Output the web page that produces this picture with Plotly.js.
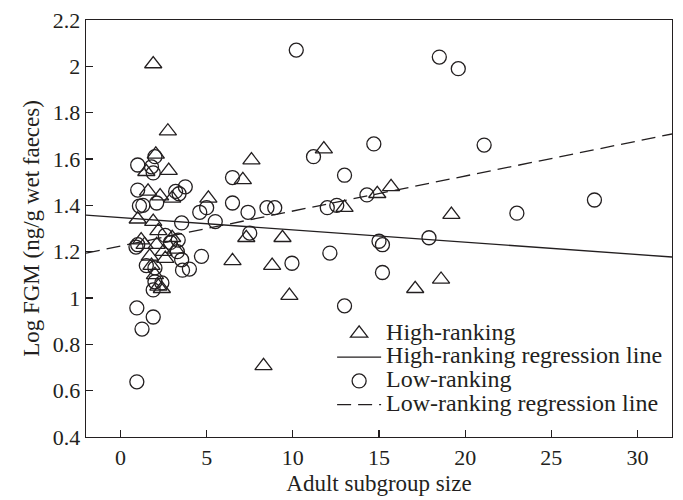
<!DOCTYPE html>
<html>
<head>
<meta charset="utf-8">
<script src="https://cdn.plot.ly/plotly-3.0.1.min.js"></script>
<style>html,body{margin:0;padding:0;background:#fff;}#chart{width:683px;height:500px;}</style>
</head>
<body>
<div id="chart"></div>
<script>
// High-ranking individuals (triangles)
var highX = [1.9, 2.75, 2.05, 1.5, 2.8, 1.6, 2.3, 3.0, 5.1, 1.0, 1.9, 2.2, 1.4, 2.1, 2.6, 1.8, 2.0, 2.4, 1.2, 2.5, 1.7, 2.2, 3.0, 3.2,
             7.6, 7.1, 11.8, 13.0, 14.9, 15.7, 7.3, 9.4, 6.5, 8.8, 9.8, 17.1, 18.6, 8.3, 19.2];
var highY = [2.01, 1.72, 1.62, 1.545, 1.55, 1.46, 1.44, 1.43, 1.43, 1.34, 1.33, 1.29, 1.23, 1.23, 1.17, 1.14, 1.10, 1.04, 1.25, 1.20, 1.18, 1.05, 1.26, 1.21,
             1.595, 1.51, 1.643, 1.39, 1.45, 1.48, 1.26, 1.26, 1.16, 1.14, 1.01, 1.04, 1.08, 0.707, 1.36];
// Low-ranking individuals (circles)
var lowX = [10.2, 18.5, 19.6, 14.7, 11.2, 13.0, 6.5, 6.5, 7.4, 8.5, 8.95, 12.0, 12.55, 14.3, 7.5, 15.0, 15.2, 17.9, 9.95, 12.15, 15.2, 13.0, 21.1, 27.5, 23.0,
            1.0, 1.8, 2.0, 1.9, 1.0, 1.1, 2.1, 3.2, 3.4, 3.76, 4.6, 5.0, 3.55, 5.5, 1.0, 0.9, 3.35, 2.9, 3.3, 3.55, 3.6, 4.0, 4.7, 1.5, 2.0, 2.0, 2.4, 1.9, 0.95, 1.9, 1.25, 0.95, 2.6, 1.3];
var lowY = [2.07, 2.04, 1.99, 1.665, 1.61, 1.53, 1.52, 1.41, 1.37, 1.39, 1.39, 1.39, 1.40, 1.445, 1.28, 1.245, 1.23, 1.26, 1.15, 1.194, 1.11, 0.966, 1.66, 1.423, 1.366,
            1.574, 1.566, 1.61, 1.54, 1.466, 1.397, 1.41, 1.46, 1.45, 1.48, 1.37, 1.39, 1.324, 1.33, 1.23, 1.22, 1.25, 1.24, 1.20, 1.165, 1.12, 1.125, 1.18, 1.14, 1.13, 1.07, 1.065, 1.035, 0.957, 0.918, 0.866, 0.638, 1.27, 1.40];
// Regression line end points
var regX = [-2, 32];
var highRegY = [1.358, 1.177];
var lowRegY = [1.194, 1.708];
var xTicks = [0, 5, 10, 15, 20, 25, 30];
var seriesNames = ['High-ranking', 'High-ranking regression line', 'Low-ranking', 'Low-ranking regression line'];

var ink = '#231f20';
var fontFam = '"Liberation Serif", "DejaVu Serif", serif';
function big(s) { return '<span style="font-size:24px">' + s + '</span>'; }

var traces = [
  {x: highX, y: highY, type: 'scatter', mode: 'markers', name: big(seriesNames[0]),
   marker: {symbol: 'triangle-up-open', size: 15, color: ink, line: {width: 1.3, color: ink}}},
  {x: regX, y: highRegY, type: 'scatter', mode: 'lines', name: big(seriesNames[1]),
   line: {color: ink, width: 1.3}},
  {x: lowX, y: lowY, type: 'scatter', mode: 'markers', name: big(seriesNames[2]),
   marker: {symbol: 'circle-open', size: 14, color: ink, line: {width: 1.3, color: ink}}},
  {x: regX, y: lowRegY, type: 'scatter', mode: 'lines', name: big(seriesNames[3]),
   line: {color: ink, width: 1.3, dash: '14px,7px'}}
];

var layout = {
  width: 683, height: 500,
  margin: {l: 86, r: 11, t: 20, b: 63},
  paper_bgcolor: '#fff', plot_bgcolor: '#fff',
  font: {family: fontFam, color: ink, size: 20},
  showlegend: true,
  legend: {x: 0.42, y: 0.035, xanchor: 'left', yanchor: 'bottom', bgcolor: 'rgba(0,0,0,0)',
           font: {family: fontFam, size: 16, color: ink}, tracegroupgap: 0, itemwidth: 44},
  xaxis: {range: [-2, 32], tickvals: xTicks, ticks: 'inside', ticklen: 7, tickwidth: 1.3, tickcolor: ink,
          showline: true, linecolor: ink, linewidth: 1.3, mirror: true, showgrid: false, zeroline: false,
          tickfont: {family: fontFam, size: 22, color: ink},
          title: {text: 'Adult subgroup size', font: {family: fontFam, size: 23, color: ink}, standoff: 6}},
  yaxis: {range: [0.4, 2.2], dtick: 0.2, tick0: 0.4, ticks: 'inside', ticklen: 7, tickwidth: 1.3, tickcolor: ink,
          showline: true, linecolor: ink, linewidth: 1.3, mirror: true, showgrid: false, zeroline: false,
          tickfont: {family: fontFam, size: 22, color: ink},
          title: {text: 'Log FGM (ng/g wet faeces)', font: {family: fontFam, size: 23, color: ink}, standoff: 6}}
};

Plotly.newPlot('chart', traces, layout, {staticPlot: true, displayModeBar: false});
</script>
</body>
</html>
